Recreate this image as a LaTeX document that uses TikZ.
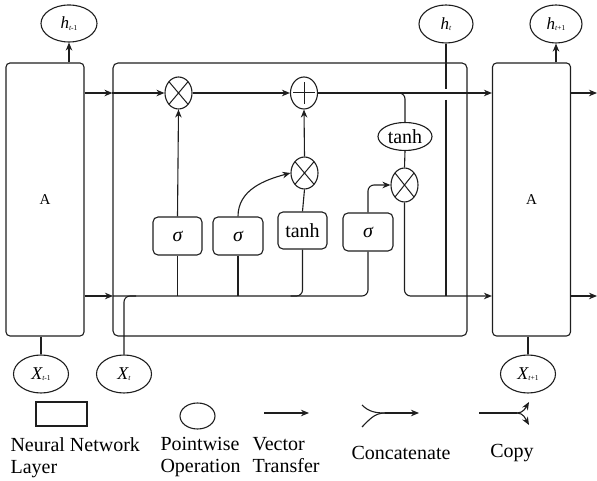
\documentclass[tikz,border=0pt]{standalone}
\usepackage{fontspec}
\setmainfont{Liberation Serif}
\usepackage{xcolor}
\usepackage{tikz}
\usetikzlibrary{arrows.meta,positioning,calc,shapes.geometric}
\definecolor{ink}{RGB}{30,30,30}
\newcommand{\stp}[1]{\raisebox{-1.5pt}{\fontsize{7.5}{7.5}\selectfont\itshape t\upshape#1}}
\newcommand{\hv}{{\fontsize{17}{17}\selectfont\itshape h}}
\newcommand{\xv}{{\fontsize{18}{18}\selectfont\itshape X}}

\begin{document}
\begin{tikzpicture}[x=1pt,y=1pt,>={Stealth[length=8pt,width=6.5pt,inset=2.5pt]},line width=1.1pt,draw=ink,font=\fontsize{20}{22}\selectfont]
\tikzset{layer/.style={draw=ink,rounded corners=4pt,minimum width=78pt,minimum height=273pt,inner sep=0pt,font=\fontsize{15}{15}\selectfont},
  gatebox/.style={draw=ink,rounded corners=5pt,minimum width=49pt,minimum height=38pt,inner sep=0pt},
  opnode/.style={draw=ink,ellipse,minimum width=27pt,minimum height=32pt,inner sep=0pt},
  mulop/.style={opnode,path picture={\draw[ink,line width=1pt] (path picture bounding box.north west)--(path picture bounding box.south east) (path picture bounding box.south west)--(path picture bounding box.north east);}},
  addop/.style={opnode,path picture={\draw[ink,line width=1pt] (path picture bounding box.center) ++(-11pt,0pt)--++(22pt,0pt) (path picture bounding box.center) ++(0pt,-11pt)--++(0pt,22pt);}},
  ionode/.style={draw=ink,ellipse,minimum width=55pt,minimum height=38pt,inner sep=0pt},
  legtxt/.style={inner sep=0pt,align=left}}
\useasboundingbox (0,0) rectangle (597,481);
% blocks
\node[layer] (A1) at (45,281.5) {A};
\node[draw=ink,rounded corners=5pt,minimum width=354pt,minimum height=273pt,inner sep=0pt] (cell) at (290,281.5) {};
\node[layer] (A2) at (531.5,281.5) {A};
% inputs and outputs
\node[ionode,minimum width=56pt,minimum height=37pt] (hprev) at (69,457.5) {\hv\stp{-1}};
\node[ionode,minimum width=54pt,minimum height=38pt] (ht) at (446,457) {\hv\stp{}};
\node[ionode,minimum width=52pt,minimum height=38pt] (hnext) at (556,457) {\hv\stp{+1}};
\node[ionode] (xprev) at (41,107) {\xv\stp{-1}};
\node[ionode] (xt) at (124,107) {\xv\stp{}};
\node[ionode] (xnext) at (528,107) {\xv\stp{+1}};
% gates
\node[gatebox] (s1) at (177.5,245) {\itshape σ};
\node[gatebox,minimum width=50pt] (s2) at (238,245) {\itshape σ};
\node[gatebox,minimum height=37pt] (tb) at (302.5,250.5) {tanh};
\node[gatebox,minimum width=50pt] (s3) at (368,249) {\itshape σ};
\node[mulop] (f) at (178.5,388) {};
\node[addop] (plus) at (304,388) {};
\node[mulop] (i) at (304.5,308) {};
\node[draw=ink,ellipse,minimum width=54pt,minimum height=28pt,inner sep=0pt] (tanhO) at (405,344.5) {tanh};
\node[mulop,minimum height=34pt] (o) at (404.5,296) {};
\coordinate (busL) at (113,185);
\coordinate (edgeR) at (597,0);
% cell state line
\draw[->] (A1.east |- f) -- (cell.west |- f);
\draw[->] (cell.west |- f) -- (f.west);
\draw[->] (f.east) -- (plus.west);
\draw[->] (plus.east) -- (A2.west |- plus);
\draw[rounded corners=6pt] ([xshift=-12pt]tanhO.north |- plus) -| (tanhO.north);
\draw (tanhO.south) -- (o.north);
% hidden state line
\draw[->] (A1.east |- busL) -- (busL);
\draw[rounded corners=6pt] (busL) -| (s3.south);
\draw (s1.south) -- (s1.south |- busL);
\draw (s2.south) -- (s2.south |- busL);
\draw[rounded corners=6pt] (tb.south) |- ([xshift=-12pt]tb.south |- busL);
\draw[rounded corners=6pt] (xt.north) |- ([xshift=12pt]xt.north |- busL);
\draw[->,rounded corners=6pt] (o.south) |- (A2.west |- busL);
\draw (ht.south) -- ([yshift=4pt]ht.south |- plus);
\draw ([yshift=-7pt]ht.south |- plus) -- (ht.south |- busL);
% gate links
\draw[->] (s1.north) -- (f.south);
\draw[->] (s2.north) to[out=90,in=195] (i.west);
\draw (tb.north) -- (i.south);
\draw[->] (i.north) -- (plus.south);
\draw[->,rounded corners=6pt] (s3.north) |- (o.west);
% neighbours
\draw[->] (hprev.south |- A1.north) -- (hprev.south);
\draw[->] (hnext.south |- A2.north) -- (hnext.south);
\draw (xprev.north |- A1.south) -- (xprev.north);
\draw (xnext.north |- A2.south) -- (xnext.north);
\draw[->] (A2.east |- plus) -- (edgeR |- plus);
\draw[->] (A2.east |- busL) -- (edgeR |- busL);
% legend
\node[draw=ink,minimum width=51pt,minimum height=24pt,inner sep=0pt] (legLayer) at (61.5,67) {};
\node[draw=ink,ellipse,minimum width=35pt,minimum height=26pt,inner sep=0pt] (legOp) at (197.5,65) {};
\coordinate (vecA) at (264,68); \coordinate (vecB) at (309,68);
\draw[->] (vecA) -- (vecB);
\coordinate (catA) at (362,76); \coordinate (catB) at (362,54);
\coordinate (catM) at (385,68); \coordinate (catE) at (419,68);
\draw (catA) to[out=-45,in=180] (catM);
\draw (catB) to[out=45,in=180] (catM);
\draw[->] (catM) -- (catE);
\coordinate (cpA) at (479,68); \coordinate (cpM) at (517,68);
\coordinate (cpU) at (529,79); \coordinate (cpD) at (529,56);
\draw (cpA) -- (cpM);
\draw[->] (cpM) to[out=0,in=240] (cpU);
\draw[->] (cpM) to[out=0,in=120] (cpD);
\node[legtxt,anchor=north west] (legLayerTxt) at (10,44) {Neural Network\\Layer};
\node[legtxt,anchor=north west] (legOpTxt) at (160,44) {Pointwise\\Operation};
\node[legtxt,anchor=north west] (legVecTxt) at (252,44) {Vector\\Transfer};
\node[legtxt] (legCatTxt) at (401,28) {Concatenate};
\node[legtxt] (legCopyTxt) at (512,28) {Copy};
\end{tikzpicture}
\end{document}
